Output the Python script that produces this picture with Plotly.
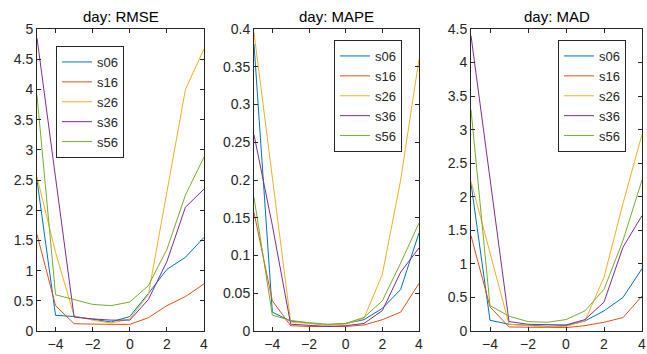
import plotly.graph_objects as go

x = [-5, -4, -3, -2, -1, 0, 1, 2, 3, 4]
series = ["s06", "s16", "s26", "s36", "s56"]
colors = ["#0072BD", "#D95319", "#EDB120", "#7E2F8E", "#77AC30"]

rmse = {
    "s06": [2.5, 0.26, 0.24, 0.2, 0.15, 0.24, 0.62, 1.02, 1.22, 1.55],
    "s16": [1.6, 0.42, 0.12, 0.11, 0.11, 0.11, 0.22, 0.42, 0.57, 0.78],
    "s26": [2.55, 1.3, 0.25, 0.18, 0.13, 0.2, 0.6, 2.3, 4.0, 4.67],
    "s36": [4.85, 2.5, 0.23, 0.2, 0.18, 0.18, 0.52, 1.15, 2.05, 2.35],
    "s56": [3.9, 0.6, 0.52, 0.44, 0.42, 0.48, 0.75, 1.35, 2.25, 2.88],
}
mape = {
    "s06": [0.38, 0.025, 0.013, 0.01, 0.008, 0.01, 0.015, 0.03, 0.055, 0.13],
    "s16": [0.157, 0.04, 0.007, 0.006, 0.006, 0.006, 0.008, 0.015, 0.025, 0.063],
    "s26": [0.395, 0.2, 0.012, 0.01, 0.008, 0.009, 0.017, 0.075, 0.2, 0.36],
    "s36": [0.26, 0.14, 0.009, 0.007, 0.006, 0.007, 0.01, 0.027, 0.078, 0.11],
    "s56": [0.177, 0.021, 0.014, 0.011, 0.009, 0.01, 0.018, 0.04, 0.09, 0.143],
}
mad = {
    "s06": [2.2, 0.16, 0.1, 0.08, 0.07, 0.08, 0.15, 0.3, 0.5, 0.93],
    "s16": [1.42, 0.36, 0.06, 0.055, 0.05, 0.05, 0.08, 0.13, 0.2, 0.52],
    "s26": [2.23, 1.15, 0.1, 0.08, 0.06, 0.07, 0.15, 0.8, 1.9, 2.93],
    "s36": [4.4, 2.3, 0.14, 0.1, 0.09, 0.09, 0.17, 0.43, 1.25, 1.72],
    "s56": [3.3, 0.38, 0.22, 0.14, 0.13, 0.17, 0.3, 0.62, 1.35, 2.25],
}

titles = ["day: RMSE", "day: MAPE", "day: MAD"]
datasets = [rmse, mape, mad]
yranges = [[0, 5], [0, 0.4], [0, 4.5]]
ydticks = [0.5, 0.05, 0.5]
xdomains = [[37 / 647, 204 / 647], [254 / 647, 419 / 647], [471 / 647, 642 / 647]]
ydomain = [1 - 331 / 354, 1 - 29 / 354]
legpos = [(56 / 647, 1 - 46 / 354), (334 / 647, 1 - 40 / 354), (558 / 647, 1 - 40 / 354)]

fig = go.Figure()
axcol = "#262626"
layout = dict(
    width=647, height=354, margin=dict(l=0, r=0, t=0, b=0, autoexpand=False),
    plot_bgcolor="white", paper_bgcolor="white",
    font=dict(family="Liberation Sans, Arial", size=12, color=axcol),
    annotations=[],
)
for i, (data, title) in enumerate(zip(datasets, titles)):
    n = "" if i == 0 else str(i + 1)
    leg = "legend" if i == 0 else f"legend{i + 1}"
    for s, c in zip(series, colors):
        fig.add_trace(go.Scatter(
            x=x, y=data[s], mode="lines", name=s,
            line=dict(color=c, width=1),
            xaxis="x" + n, yaxis="y" + n, legend=leg,
        ))
    common = dict(showline=True, linecolor=axcol, linewidth=1, mirror="ticks",
                  ticks="inside", ticklen=4, tickcolor=axcol, showgrid=False,
                  zeroline=False, automargin=False,
                  tickfont=dict(size=14, color=axcol))
    layout["xaxis" + n] = dict(domain=xdomains[i], range=[-5, 4], dtick=2, tick0=0,
                               anchor="y" + n, **common)
    layout["yaxis" + n] = dict(domain=ydomain, range=yranges[i], dtick=ydticks[i], tick0=0,
                               anchor="x" + n, **common)
    lx, ly = legpos[i]
    layout[leg] = dict(x=lx, y=ly, xanchor="left", yanchor="top",
                       bordercolor=axcol, borderwidth=1, bgcolor="white",
                       font=dict(size=13, color=axcol), tracegroupgap=0,
                       itemwidth=30)
    layout["annotations"].append(dict(
        text=title, x=(xdomains[i][0] + xdomains[i][1]) / 2, y=1 - 16 / 354,
        xref="paper", yref="paper", showarrow=False, xanchor="center", yanchor="middle",
        font=dict(size=15, color="#000000"),
    ))

fig.update_layout(**layout)
fig.write_html("out.html", post_script="document.body.style.margin='0px';",
               config={"displayModeBar": False})
